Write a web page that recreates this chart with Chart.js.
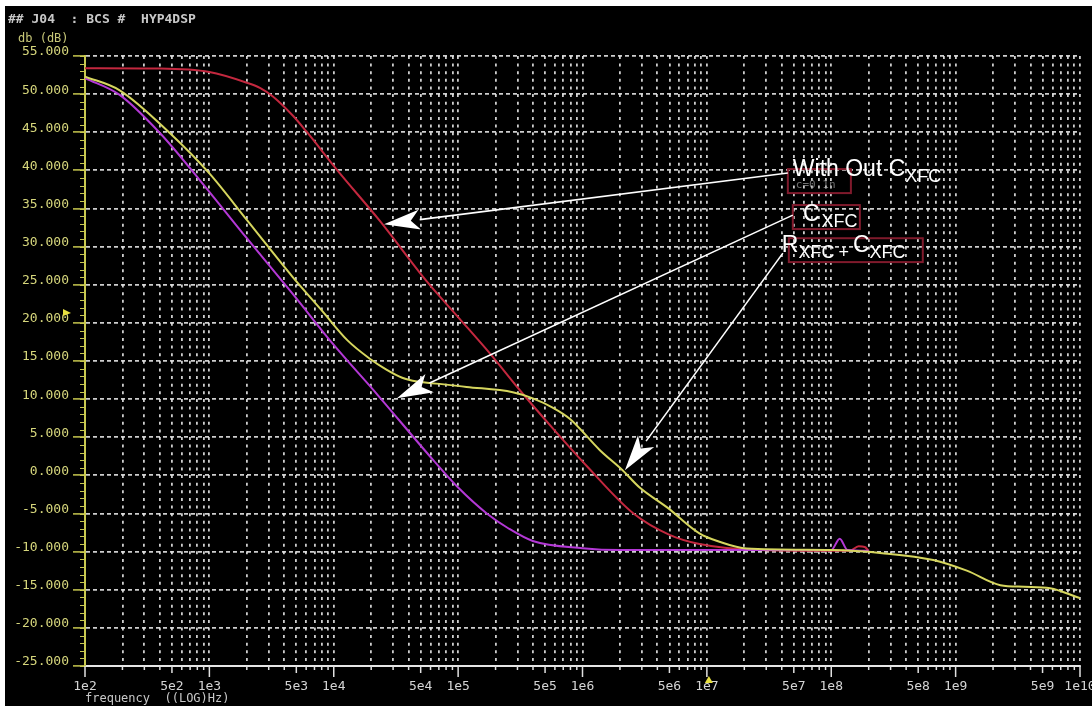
<!DOCTYPE html>
<html>
<head>
<meta charset="utf-8">
<script src="https://cdn.jsdelivr.net/npm/chart.js@4.4.1/dist/chart.umd.min.js"></script>
<style>
  html,body{margin:0;padding:0;background:#fff;}
  body{width:1092px;height:706px;overflow:hidden;position:relative;}
  #wrap{position:absolute;left:5px;top:6px;width:1087px;height:700px;background:#000;}
</style>
</head>
<body>
<div id="wrap"><canvas id="c" width="1087" height="700"></canvas></div>
<script>
// gain (dB) vs frequency (Hz)
const redFreq = [100, 400, 1000, 2000, 2570, 3240, 4680, 6030, 1.07e4, 2.34e4, 5.62e4, 1.02e5, 1.82e5, 3.16e5, 5.89e5, 1.10e6, 2.57e6, 5.01e6, 8.71e6, 2.69e7, 1e8, 1.41e8, 1.66e8, 1.86e8, 2.0e8];
const redDb   = [53.4, 53.35, 52.9, 51.5, 50.8, 49.7, 47.2, 45.1, 40.0, 33.4, 25.4, 20.6, 15.9, 11.1, 6.0, 1.1, -5.0, -7.8, -9.0, -9.8, -9.9, -9.9, -9.3, -9.4, -9.9];

const purpleFreq = [100, 190, 400, 830, 2000, 4680, 9770, 2.24e4, 6.31e4, 1e5, 1.70e5, 2.51e5, 3.98e5, 1e6, 2e6, 1e7, 1e8, 1.17e8, 1.35e8, 2e8];
const purpleDb   = [52.1, 49.9, 44.9, 38.8, 31.1, 23.8, 17.3, 10.6, 2.0, -1.6, -5.0, -6.9, -8.6, -9.55, -9.8, -9.8, -9.8, -8.3, -9.8, -9.9];

const yellowFreq = [100, 190, 480, 1000, 2000, 4680, 7940, 1.29e4, 1.95e4, 2.63e4, 3.55e4, 4.68e4, 7.08e4, 1.17e5, 2.75e5, 3.98e5, 5.75e5, 7.94e5, 1.38e6, 2.09e6, 2.88e6, 4.79e6, 8.71e6, 1.26e7, 2.09e7, 1e8, 2.57e8, 6.61e8, 1.23e9, 2.29e9, 3.55e9, 5.75e9, 1e10];
const yellowDb   = [52.3, 50.5, 44.9, 39.6, 33.5, 26.0, 21.7, 17.7, 15.3, 13.9, 12.8, 12.3, 12.0, 11.6, 10.9, 10.1, 8.9, 7.4, 3.3, 0.7, -1.6, -4.2, -7.6, -8.7, -9.6, -9.8, -10.2, -11.1, -12.5, -14.4, -14.6, -14.8, -16.1];

const yTicks = [55, 50, 45, 40, 35, 30, 25, 20, 15, 10, 5, 0, -5, -10, -15, -20, -25];
const decades = [2, 3, 4, 5, 6, 7, 8, 9];
const xTickLabels = ['1e2','5e2','1e3','5e3','1e4','5e4','1e5','5e5','1e6','5e6','1e7','5e7','1e8','5e8','1e9','5e9','1e10'];

// grid positions 1..9 x 10^n
const gridFreqs = [];
decades.forEach(e => { for (let m = 1; m <= 9; m++) gridFreqs.push(m * Math.pow(10, e)); });
gridFreqs.push(1e10);

function mantExp(v){
  const e = Math.floor(Math.log10(v) + 1e-9);
  return [Math.round(v / Math.pow(10, e)), e];
}

const pts = (f, d) => f.map((v, i) => ({x: v, y: d[i]}));

// annotations in (log10 f, dB)
const arrows = [
  {from: [7.651, 39.65], to: [4.404, 32.95]},
  {from: [7.691, 34.13], to: [4.508, 10.12]},
  {from: [7.611, 29.15], to: [6.341, 0.67]}
];
const boxes = [
  [7.651, 40.17, 8.158, 37.02],
  [7.691, 35.45, 8.230, 32.30],
  [7.659, 31.10, 8.736, 27.97]
];

const overlay = {
  id: 'overlay',
  afterDatasetsDraw(chart){
    const {ctx, scales: {x, y}} = chart;
    const X = lf => x.getPixelForValue(Math.pow(10, lf));
    const Y = d => y.getPixelForValue(d);
    ctx.save();
    // red boxes
    ctx.strokeStyle = '#801a2c'; ctx.lineWidth = 2;
    boxes.forEach(b => { ctx.strokeRect(X(b[0]), Y(b[1]), X(b[2]) - X(b[0]), Y(b[3]) - Y(b[1])); });
    ctx.fillStyle = 'rgba(160,160,160,0.7)';
    ctx.font = '11px "DejaVu Sans Mono"';
    ctx.textBaseline = 'alphabetic';
    ctx.fillText('c=0.1n', X(boxes[0][0]) + 8, Y(boxes[0][3]) - 5);
    // arrows
    ctx.strokeStyle = '#fff'; ctx.fillStyle = '#fff'; ctx.lineWidth = 1.6;
    arrows.forEach(a => {
      const x1 = X(a.from[0]), y1 = Y(a.from[1]), x2 = X(a.to[0]), y2 = Y(a.to[1]);
      const ang = Math.atan2(y2 - y1, x2 - x1), hl = 36, hw = 10;
      const bx = x2 - hl * Math.cos(ang), by = y2 - hl * Math.sin(ang);
      ctx.beginPath(); ctx.moveTo(x1, y1); ctx.lineTo(bx, by); ctx.stroke();
      ctx.beginPath();
      ctx.moveTo(x2, y2);
      ctx.lineTo(bx + hw * Math.sin(ang), by - hw * Math.cos(ang));
      ctx.lineTo(bx + 0.25 * hl * Math.cos(ang), by + 0.25 * hl * Math.sin(ang));
      ctx.lineTo(bx - hw * Math.sin(ang), by + hw * Math.cos(ang));
      ctx.closePath(); ctx.fill();
    });
    // labels with subscripts
    const big = '23px "Liberation Sans"', small = '18px "Liberation Sans"';
    const write = (parts, lf, d) => {
      let px = X(lf); const py = Y(d);
      parts.forEach(p => {
        ctx.font = p[1] ? small : big;
        ctx.fillText(p[0], px, py + (p[1] ? 6 : 0));
        px += ctx.measureText(p[0]).width + (p[2] || 0);
      });
    };
    write([['With Out C'], ['XFC', 1]], 7.691, 39.25);
    write([['C', 0, 2], ['XFC', 1]], 7.772, 33.35);
    write([['R'], ['XFC', 1, 4], ['+', 1, 4], ['C'], ['XFC', 1]], 7.603, 29.28);
    ctx.restore();
  },
  afterDraw(chart){
    const {ctx, scales: {x, y}, chartArea: a} = chart;
    ctx.save();
    // minor ticks on the y axis
    ctx.strokeStyle = '#c8c850'; ctx.lineWidth = 1;
    for (let v = -25; v <= 55; v++){
      const py = Math.round(y.getPixelForValue(v)) + 0.5;
      ctx.beginPath(); ctx.moveTo(a.left - 5, py); ctx.lineTo(a.left, py); ctx.stroke();
    }
    // tick marks below the x axis
    ctx.strokeStyle = '#e0e0e0'; ctx.lineWidth = 1.5;
    gridFreqs.forEach(f => {
      const [m] = mantExp(f);
      const px = x.getPixelForValue(f), len = m === 1 ? 11 : (m === 5 ? 7 : 4);
      ctx.beginPath(); ctx.moveTo(px, a.bottom); ctx.lineTo(px, a.bottom + len); ctx.stroke();
    });
    // cursor markers
    ctx.fillStyle = '#e8e040';
    let py = y.getPixelForValue(21.3);
    ctx.beginPath(); ctx.moveTo(a.left - 22, py - 4); ctx.lineTo(a.left - 14, py); ctx.lineTo(a.left - 22, py + 3); ctx.closePath(); ctx.fill();
    const mx = x.getPixelForValue(1e7) + 2;
    ctx.beginPath(); ctx.moveTo(mx, a.bottom + 10); ctx.lineTo(mx - 4, a.bottom + 17); ctx.lineTo(mx + 4, a.bottom + 17); ctx.closePath(); ctx.fill();
    // header
    ctx.textBaseline = 'middle';
    ctx.font = 'bold 13px "DejaVu Sans Mono"';
    ctx.fillStyle = '#c8c8c8';
    ctx.fillText('## J04  : BCS #  HYP4DSP', 3, 14);
    ctx.fillStyle = '#c8c878';
    ctx.font = '12px "DejaVu Sans Mono"';
    ctx.fillText('db (dB)', 13, 33);
    ctx.restore();
  }
};

const gridCol = 'rgba(228,228,228,0.9)';
new Chart(document.getElementById('c'), {
  type: 'line',
  data: {
    datasets: [
      {label: 'RXFC + CXFC', data: pts(yellowFreq, yellowDb), borderColor: '#d6d65e'},
      {label: 'CXFC', data: pts(purpleFreq, purpleDb), borderColor: '#b438d6'},
      {label: 'With Out CXFC', data: pts(redFreq, redDb), borderColor: '#c4283f'}
    ]
  },
  options: {
    responsive: false,
    animation: false,
    layout: {padding: {top: 50, right: 12, left: 0, bottom: 0}},
    elements: {line: {borderWidth: 2, cubicInterpolationMode: 'monotone'}, point: {radius: 0}},
    plugins: {legend: {display: false}, tooltip: {enabled: false}},
    scales: {
      x: {
        type: 'logarithmic', min: 100, max: 1e10,
        afterBuildTicks: s => { s.ticks = gridFreqs.map(v => ({value: v})); },
        afterFit: s => { s.height = 40; s.paddingLeft = 0; s.paddingRight = 0; },
        ticks: {
          autoSkip: false, maxRotation: 0, minRotation: 0, padding: 13,
          color: '#d4d4d4', font: {family: 'DejaVu Sans Mono', size: 13},
          callback: v => { const [m, e] = mantExp(v); const s = m + 'e' + e; return xTickLabels.includes(s) ? s : ''; }
        },
        grid: {color: gridCol, lineWidth: 1.8, drawTicks: false},
        border: {display: true, color: '#e6e6e6', width: 2, dash: [3, 4.62]},
        title: {display: true, text: 'frequency  ((LOG)Hz)', align: 'start', color: '#c8c8c8',
                font: {family: 'DejaVu Sans Mono', size: 12}, padding: {top: 0, bottom: 0}}
      },
      y: {
        min: -25, max: 55,
        afterBuildTicks: s => { s.ticks = yTicks.map(v => ({value: v})); },
        afterFit: s => { s.width = 80; s.paddingTop = 0; s.paddingBottom = 0; },
        ticks: {
          color: '#d6d67c', padding: 4, labelOffset: -4,
          font: {family: 'DejaVu Sans Mono', size: 13},
          callback: v => Number(v).toFixed(3)
        },
        grid: {color: gridCol, lineWidth: 1.8, tickLength: 12, tickColor: '#c8c850', tickWidth: 1.5},
        border: {display: true, color: '#c8c850', width: 2, dash: [4, 3]}
      }
    }
  },
  plugins: [overlay]
});
</script>
</body>
</html>
